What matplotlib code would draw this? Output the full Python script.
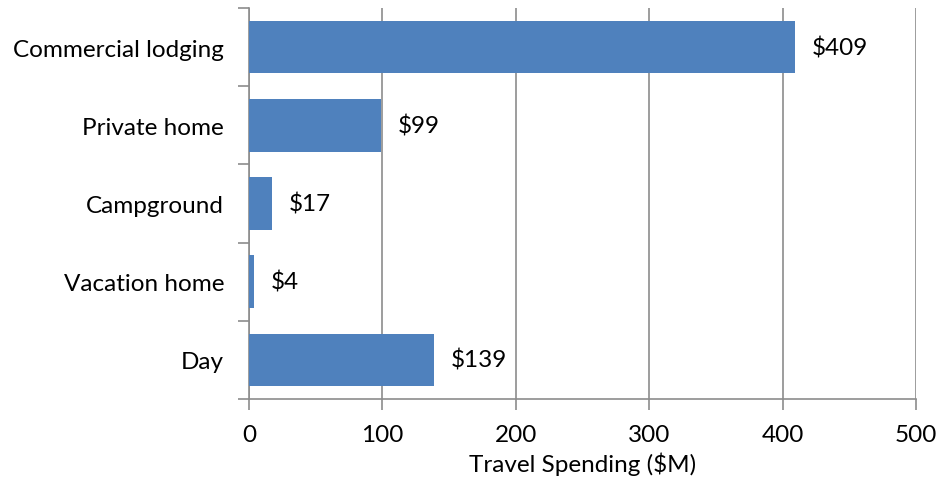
import matplotlib.pyplot as plt
from matplotlib.ticker import FixedLocator

plt.rcParams['font.family'] = ['Lato', 'DejaVu Sans']

# Travel spending by lodging type ($M)
categories = ["Day", "Vacation home", "Campground", "Private home", "Commercial lodging"]
spending = [139, 4, 17, 99, 409]
x_ticks = [0, 100, 200, 300, 400, 500]

bar_color = "#4F81BD"
axis_gray = "#8C8C8C"
fs = 17.5

fig = plt.figure(figsize=(9.39, 4.85), dpi=100)
ax = fig.add_axes([0.2652, 0.1753, 0.7103, 0.8061])

pos = list(range(len(categories)))
ax.barh(pos, spending, height=0.67, color=bar_color, zorder=3)

for y, v in zip(pos, spending):
    ax.annotate(f"${v}", xy=(v, y), xytext=(12, 0), textcoords="offset points",
                va="center", ha="left", fontsize=fs)

ax.set_xlim(0, 500)
ax.set_ylim(-0.5, len(categories) - 0.5)
ax.set_xticks(x_ticks)
ax.set_xticklabels([str(t) for t in x_ticks], fontsize=fs)
ax.set_yticks(pos)
ax.set_yticklabels(categories, fontsize=fs)
ax.yaxis.set_minor_locator(FixedLocator([p - 0.5 for p in pos] + [pos[-1] + 0.5]))

ax.grid(axis="x", color=axis_gray, linewidth=1.2, zorder=0)
ax.tick_params(axis="y", which="major", length=0, pad=18)
ax.tick_params(axis="y", which="minor", length=8, color=axis_gray, width=1.2)
ax.tick_params(axis="x", length=8, color=axis_gray, width=1.2, pad=10)

for side in ["top", "right"]:
    ax.spines[side].set_visible(False)
for side in ["left", "bottom"]:
    ax.spines[side].set_color(axis_gray)
    ax.spines[side].set_linewidth(1.2)

ax.set_xlabel("Travel Spending ($M)", fontsize=fs, labelpad=5)

fig.savefig("out.png", dpi=100)
